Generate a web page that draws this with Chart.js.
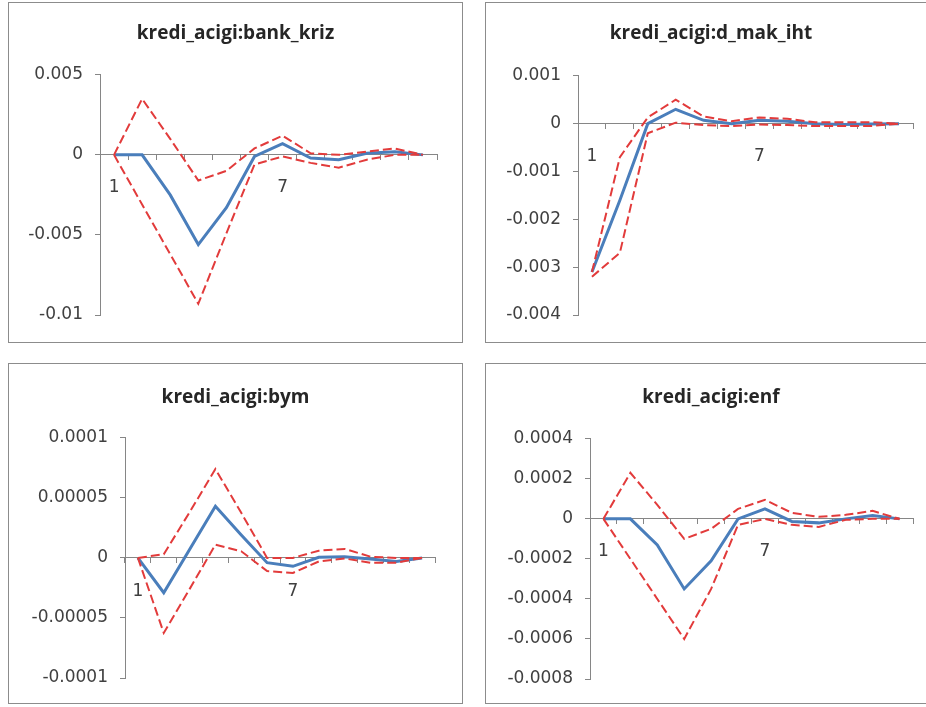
<!DOCTYPE html>
<html>
<head>
<meta charset="utf-8">
<script src="https://cdn.jsdelivr.net/npm/chart.js@4"></script>
<style>
  html, body { margin: 0; padding: 0; background: #fff; }
  body { width: 926px; height: 707px; position: relative; overflow: hidden; }
  .panel { position: absolute; box-sizing: border-box; border: 1px solid #8c8c8c; background: #fff; }
  .panel canvas { position: absolute; left: 0; top: 0; }
</style>
</head>
<body>
<div class="panel" id="p1"><canvas id="c1"></canvas></div>
<div class="panel" id="p2"><canvas id="c2"></canvas></div>
<div class="panel" id="p3"><canvas id="c3"></canvas></div>
<div class="panel" id="p4"><canvas id="c4"></canvas></div>
<script>
// periods 1..12
var periods = ["1", "2", "3", "4", "5", "6", "7", "8", "9", "10", "11", "12"];

// kredi_acigi:bank_kriz
var bankResp  = [0, 0, -0.0025, -0.0056, -0.0033, -0.0001, 0.0007, -0.0002, -0.0003, 0.0001, 0.0002, 0];
var bankUpper = [0, 0.0035, 0.001, -0.0016, -0.001, 0.0004, 0.0012, 0.0001, 0, 0.0002, 0.0004, 0];
var bankLower = [0, -0.0031, -0.0062, -0.0093, -0.0049, -0.0006, -0.0001, -0.0005, -0.0008, -0.0003, 0, 0];
var bankTicks = [-0.01, 0.005, 0.005];

// kredi_acigi:d_mak_iht
var makResp  = [-0.0031, -0.0016, 0, 0.0003, 0.00007, 0, 0.00007, 0.00005, 0, -0.00002, -0.00001, 0];
var makUpper = [-0.0031, -0.0007, 0.00013, 0.0005, 0.00015, 0.00005, 0.00013, 0.0001, 0.00003, 0.00003, 0.00003, 0];
var makLower = [-0.0032, -0.0027, -0.0002, 0.00002, -0.00003, -0.00005, -0.00002, -0.00003, -0.00005, -0.00005, -0.00005, 0];
var makTicks = [-0.004, 0.001, 0.001];

// kredi_acigi:bym
var bymResp  = [0, -0.000029, 0.000007, 0.000043, 0.000019, -0.000004, -0.000007, 0.0000005, 0.000001, -0.000001, -0.000003, 0];
var bymUpper = [0, 0.000003, 0.000038, 0.000074, 0.0000375, 0, 0, 0.000006, 0.0000075, 0.000001, 0, 0];
var bymLower = [0, -0.0000625, -0.000026, 0.000011, 0.0000055, -0.000011, -0.0000125, -0.000003, -0.0000005, -0.000004, -0.000004, 0];
var bymTicks = [-0.0001, 0.0001, 0.00005];

// kredi_acigi:enf
var enfResp  = [0, 0, -0.00013, -0.00035, -0.00021, 0, 0.00005, -0.000013, -0.00002, 0, 0.000017, 0];
var enfUpper = [0, 0.00023, 0.00007, -0.0001, -0.00005, 0.00005, 0.000095, 0.00003, 0.00001, 0.00002, 0.00004, 0];
var enfLower = [0, -0.0002, -0.0004, -0.0006, -0.00035, -0.00003, 0, -0.00003, -0.00004, -0.000005, 0, 0];
var enfTicks = [-0.0008, 0.0004, 0.0002];

var titles = ["kredi_acigi:bank_kriz", "kredi_acigi:d_mak_iht", "kredi_acigi:bym", "kredi_acigi:enf"];

// panel boxes and plot placement (plotL / gapR are measured inside the canvas)
var panels = [
  { id: "1", left: 8,   top: 2,   w: 455, h: 341, plotL: 91,  gapR: 25, padB: 27, titleTop: 19, titleGap: 30,
    resp: bankResp, upper: bankUpper, lower: bankLower, ticks: bankTicks },
  { id: "2", left: 485, top: 2,   w: 452, h: 341, plotL: 92,  gapR: 23, padB: 27, titleTop: 19, titleGap: 31,
    resp: makResp, upper: makUpper, lower: makLower, ticks: makTicks },
  { id: "3", left: 8,   top: 363, w: 455, h: 341, plotL: 116, gapR: 27, padB: 25, titleTop: 22, titleGap: 29,
    resp: bymResp, upper: bymUpper, lower: bymLower, ticks: bymTicks },
  { id: "4", left: 485, top: 363, w: 452, h: 341, plotL: 104, gapR: 23, padB: 24, titleTop: 22, titleGap: 30,
    resp: enfResp, upper: enfUpper, lower: enfLower, ticks: enfTicks }
];

var sidePad = 4;
var axisGray = "#868686";
var titleFont = "'Open Sans', 'Liberation Sans', sans-serif";
var tickFont = "'DejaVu Sans', 'Liberation Sans', sans-serif";

function fmt(v) {
  var r = Math.round(v * 1e9) / 1e9;
  return String(r);
}

panels.forEach(function (p, k) {
  var box = document.getElementById("p" + p.id);
  box.style.left = p.left + "px";
  box.style.top = p.top + "px";
  box.style.width = p.w + "px";
  box.style.height = p.h + "px";
  var cv = document.getElementById("c" + p.id);
  cv.width = p.w - 2;
  cv.height = p.h - 2;

  new Chart(cv, {
    type: "line",
    data: {
      labels: periods,
      datasets: [
        { data: p.resp, borderColor: "#4a7ebb", borderWidth: 3, order: 2 },
        { data: p.upper, borderColor: "#e23b3b", borderWidth: 2, borderDash: [9, 4], order: 1 },
        { data: p.lower, borderColor: "#e23b3b", borderWidth: 2, borderDash: [9, 4], order: 1 }
      ]
    },
    options: {
      responsive: false,
      animation: false,
      elements: { point: { radius: 0 }, line: { tension: 0, fill: false } },
      layout: { padding: { left: sidePad, right: sidePad, top: 0, bottom: p.padB } },
      plugins: {
        legend: { display: false },
        tooltip: { enabled: false },
        title: {
          display: true,
          text: titles[k],
          color: "#262626",
          font: { family: titleFont, size: 19, weight: "bold", lineHeight: 1.2 },
          padding: { top: p.titleTop, bottom: p.titleGap }
        }
      },
      scales: {
        x: {
          type: "category",
          position: { y: 0 },
          offset: true,
          grid: { display: true, offset: true, drawOnChartArea: false, drawTicks: true, tickLength: 5, color: axisGray },
          border: { display: true, color: axisGray, width: 1 },
          ticks: {
            autoSkip: false,
            maxRotation: 0,
            padding: 18,
            color: "#404040",
            font: { family: tickFont, size: 17 },
            callback: function (val, i) { return i % 6 === 0 ? periods[i] : ""; }
          }
        },
        y: {
          position: "left",
          min: p.ticks[0],
          max: p.ticks[1],
          afterFit: function (scale) { scale.width = p.plotL - sidePad; },
          grid: { display: true, drawOnChartArea: false, drawTicks: true, tickLength: 5, color: axisGray },
          border: { display: true, color: axisGray, width: 1 },
          ticks: {
            stepSize: p.ticks[2],
            padding: 12,
            color: "#404040",
            font: { family: tickFont, size: 17 },
            callback: function (v) { return fmt(v); }
          }
        },
        // empty right-hand spacer so the plot ends where it does in the original
        yr: {
          type: "linear",
          position: "right",
          grid: { display: false, drawTicks: false },
          border: { display: false },
          ticks: { display: false },
          afterFit: function (scale) { scale.width = p.gapR - sidePad; }
        }
      }
    }
  });
});
</script>
</body>
</html>
